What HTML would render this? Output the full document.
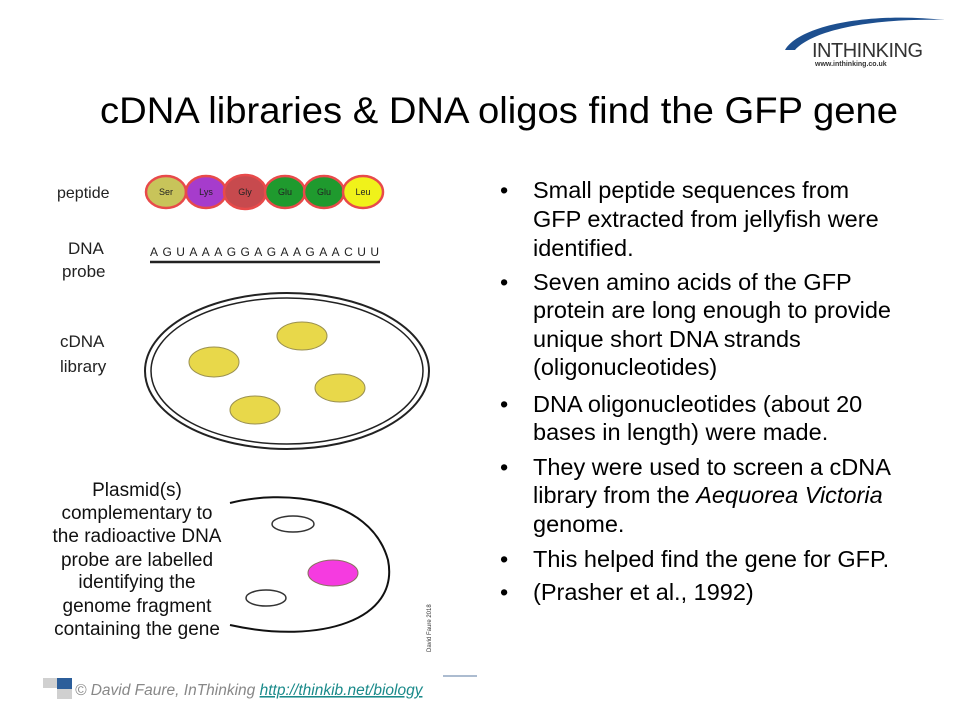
<!DOCTYPE html>
<html><head><meta charset="utf-8"><style>
body{margin:0;background:#fff;}
svg{display:block}
</style></head><body>
<svg width="960" height="720" xmlns="http://www.w3.org/2000/svg" font-family="Liberation Sans, sans-serif">
<!-- logo -->
<path d="M785,50 C800,25 870,12 945,20 C880,18 815,28 795,50 Z" fill="#1d4f8f"/>
<text x="812" y="57" font-size="20" fill="#333" letter-spacing="-0.5">INTHINKING</text>
<text x="815" y="66" font-size="7" fill="#333" font-weight="bold">www.inthinking.co.uk</text>
<!-- title -->
<text x="100" y="123" font-size="37" textLength="798" lengthAdjust="spacingAndGlyphs" fill="#000">cDNA libraries &amp; DNA oligos find the GFP gene</text>
<!-- peptide -->
<text x="57" y="198" font-size="16" fill="#222">peptide</text>
<g stroke="#e84a4a" stroke-width="2.5">
<ellipse cx="166" cy="192" rx="20" ry="16" fill="#c8c45a"/>
<ellipse cx="206" cy="192" rx="20" ry="16" fill="#a63ccc"/>
<ellipse cx="245" cy="192" rx="21" ry="17" fill="#c74a4e"/>
<ellipse cx="285" cy="192" rx="20" ry="16" fill="#1f9a2e"/>
<ellipse cx="324" cy="192" rx="20" ry="16" fill="#1f9a2e"/>
<ellipse cx="363" cy="192" rx="20" ry="16" fill="#f0f21a"/>
</g>
<g font-size="9" text-anchor="middle" fill="#222">
<text x="166" y="195">Ser</text><text x="206" y="195">Lys</text><text x="245" y="195">Gly</text><text x="285" y="195">Glu</text><text x="324" y="195">Glu</text><text x="363" y="195">Leu</text>
</g>
<text x="68" y="254" font-size="17" fill="#222">DNA</text>
<text x="62" y="277" font-size="17" fill="#222">probe</text>
<text x="150" y="256" font-size="12" fill="#222" textLength="229" lengthAdjust="spacing">AGUAAAGGAGAAGAACUU</text>
<line x1="150" y1="262" x2="380" y2="262" stroke="#222" stroke-width="2.5"/>
<!-- cDNA library -->
<text x="60" y="347" font-size="17" fill="#222">cDNA</text>
<text x="60" y="372" font-size="17" fill="#222">library</text>
<ellipse cx="287" cy="371" rx="142" ry="78" fill="#fff" stroke="#222" stroke-width="2"/>
<ellipse cx="287" cy="371" rx="136" ry="73" fill="none" stroke="#222" stroke-width="1.5"/>
<g fill="#e8d84a" stroke="#9a9050" stroke-width="1">
<ellipse cx="214" cy="362" rx="25" ry="15"/>
<ellipse cx="302" cy="336" rx="25" ry="14"/>
<ellipse cx="340" cy="388" rx="25" ry="14"/>
<ellipse cx="255" cy="410" rx="25" ry="14"/>
</g>
<!-- bottom dish -->
<path d="M230,503 C280,490 370,495 388,560 C400,620 320,645 230,625" fill="none" stroke="#111" stroke-width="2"/>
<ellipse cx="293" cy="524" rx="21" ry="8" fill="#fff" stroke="#333" stroke-width="1.5"/>
<ellipse cx="266" cy="598" rx="20" ry="8" fill="#fff" stroke="#333" stroke-width="1.5"/>
<ellipse cx="333" cy="573" rx="25" ry="13" fill="#f53be0" stroke="#8a7060" stroke-width="1"/>
<g font-size="19" text-anchor="middle" fill="#111">
<text x="137" y="496">Plasmid(s)</text>
<text x="137" y="519">complementary to</text>
<text x="137" y="542">the radioactive DNA</text>
<text x="137" y="566">probe are labelled</text>
<text x="137" y="588">identifying the</text>
<text x="137" y="612">genome fragment</text>
<text x="137" y="635">containing the gene</text>
</g>
<text transform="translate(431,652) rotate(-90)" font-size="6" fill="#333">David Faure 2018</text>
<!-- bullets -->
<g font-size="23.5" fill="#000">
<text x="500" y="198">•</text><text x="533" y="198">Small peptide sequences from</text>
<text x="533" y="227">GFP extracted from jellyfish were</text>
<text x="533" y="256">identified.</text>
<text x="500" y="290">•</text><text x="533" y="290">Seven amino acids of the GFP</text>
<text x="533" y="318">protein are long enough to provide</text>
<text x="533" y="347">unique short DNA strands</text>
<text x="533" y="375">(oligonucleotides)</text>
<text x="500" y="412">•</text><text x="533" y="412">DNA oligonucleotides (about 20</text>
<text x="533" y="440">bases in length) were made.</text>
<text x="500" y="475">•</text><text x="533" y="475">They were used to screen a cDNA</text>
<text x="533" y="503">library from the <tspan font-style="italic">Aequorea Victoria</tspan></text>
<text x="533" y="532">genome.</text>
<text x="500" y="567">•</text><text x="533" y="567">This helped find the gene for GFP.</text>
<text x="500" y="600">•</text><text x="533" y="600">(Prasher et al., 1992)</text>
</g>
<!-- footer -->
<rect x="43" y="678" width="14" height="10" fill="#d0d0d0"/>
<rect x="57" y="678" width="15" height="11" fill="#2c5e9a"/>
<rect x="57" y="689" width="15" height="10" fill="#d0d0d0"/>
<text x="75" y="695" font-size="15.5" font-style="italic" fill="#888">© David Faure, InThinking <tspan fill="#1a8a8a" text-decoration="underline">http://thinkib.net/biology</tspan></text>
<line x1="443" y1="676" x2="477" y2="676" stroke="#5a7aa0" stroke-width="1"/>
</svg>
</body></html>
